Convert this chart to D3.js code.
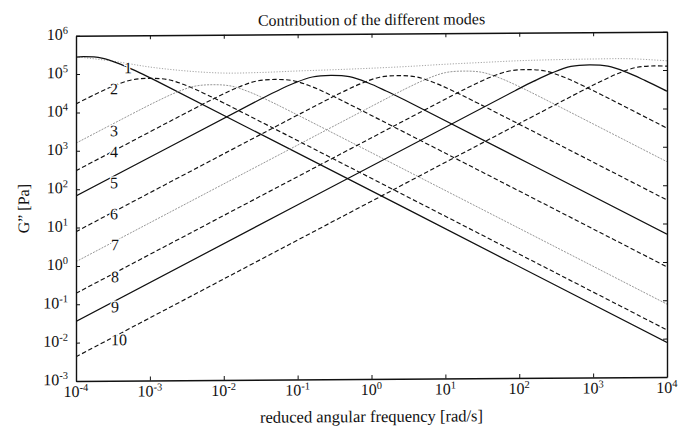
<!DOCTYPE html>
<html>
<head>
<meta charset="utf-8">
<script src="https://cdn.jsdelivr.net/npm/d3@7"></script>
<style>
html,body{margin:0;padding:0;background:#fff;}
svg{display:block;}
text{font-family:"Liberation Serif","DejaVu Serif",serif;fill:#111;}
</style>
</head>
<body>
<svg id="chart" width="680" height="436"></svg>
<script>
// ---- data ----
const title = "Contribution of the different modes";
const xLabel = "reduced angular frequency [rad/s]";
const yLabel = "G\u201D [Pa]";
const xTicks = [1e-4, 1e-3, 1e-2, 1e-1, 1e0, 1e1, 1e2, 1e3, 1e4];
const yTicks = [1e-3, 1e-2, 1e-1, 1e0, 1e1, 1e2, 1e3, 1e4, 1e5, 1e6];
const modeNames = ["1","2","3","4","5","6","7","8","9","10"];

const omega1 = [1e-4, 1.26e-4, 2.24e-4, 3.98e-4, 7.08e-4, 1.26e-3, 1e4];
const g1     = [2.75e5, 2.82e5, 2.58e5, 1.79e5, 1.08e5, 6.24e4, 7.9e-3];
const omega2 = [1e-4, 1.78e-4, 3.16e-4, 5.62e-4, 1e-3, 1.78e-3, 3.16e-3, 5.62e-3, 1e-2, 1e4];
const g2     = [1.66e4, 2.88e4, 4.75e4, 6.87e4, 7.5e4, 6.87e4, 4.75e4, 2.88e4, 1.66e4, 0.0168];
const omega3 = [1e-4, 7.08e-4, 1.26e-3, 2.24e-3, 3.98e-3, 7.08e-3, 1.26e-2, 2.24e-2, 3.98e-2, 7.08e-2, 1e4];
const g3     = [1.58e3, 1.10e4, 1.91e4, 3.16e4, 4.57e4, 4.99e4, 4.57e4, 3.16e4, 1.91e4, 1.10e4, 0.079];
const omega4 = [1e-4, 4.95e-3, 8.81e-3, 1.57e-2, 2.79e-2, 4.95e-2, 8.81e-2, 0.157, 0.279, 0.495, 1e4];
const g4     = [302, 1.48e4, 2.56e4, 4.24e4, 6.12e4, 6.68e4, 6.12e4, 4.24e4, 2.56e4, 1.48e4, 0.741];
const omega5 = [1e-4, 2.82e-2, 5.01e-2, 8.91e-2, 0.158, 0.282, 0.501, 0.891, 1.58, 2.82, 1e4];
const g5     = [66.1, 1.84e4, 3.19e4, 5.27e4, 7.62e4, 8.31e4, 7.62e4, 5.27e4, 3.19e4, 1.84e4, 5.25];
const omega6 = [1e-4, 0.229, 0.407, 0.724, 1.29, 2.29, 4.07, 7.24, 12.9, 22.9, 1e4];
const g6     = [7.8, 1.77e4, 3.06e4, 5.06e4, 7.31e4, 7.98e4, 7.31e4, 5.06e4, 3.06e4, 1.77e4, 40.9];
const omega7 = [1e-4, 1.78, 3.16, 5.62, 10, 17.8, 31.6, 56.2, 100, 178, 1e4];
const g7     = [1.29, 2.26e4, 3.93e4, 6.49e4, 9.38e4, 1.02e5, 9.38e4, 6.49e4, 3.93e4, 2.26e4, 407];
const omega8 = [1e-4, 12.6, 22.4, 39.8, 70.8, 126, 224, 398, 708, 1259, 1e4];
const g8     = [0.193, 2.40e4, 4.17e4, 6.89e4, 9.95e4, 1.09e5, 9.95e4, 6.89e4, 4.17e4, 2.40e4, 3.06e3];
const omega9 = [1e-4, 89.1, 158, 282, 501, 891, 1585, 2818, 5012, 8913, 1e4];
const g9     = [0.0355, 3.13e4, 5.42e4, 8.95e4, 1.29e5, 1.41e5, 1.29e5, 8.95e4, 5.42e4, 3.13e4, 2.79e4];
const omega10 = [1e-4, 676, 1202, 2138, 3802, 6761, 1e4];
const g10     = [4.27e-3, 2.85e4, 4.94e4, 8.17e4, 1.18e5, 1.29e5, 1.26e5];
const omegaSum = [1e-4, 3.16e-4, 1e-3, 3.16e-3, 1e-2, 3.16e-2, 0.1, 0.316, 1, 3.16, 10, 31.6, 100, 316, 1000, 3162, 1e4];
const gSum     = [2.82e5, 2.14e5, 1.48e5, 1.15e5, 1.0e5, 1.02e5, 1.10e5, 1.17e5, 1.26e5, 1.38e5, 1.55e5, 1.70e5, 1.86e5, 1.95e5, 2.0e5, 2.0e5, 1.74e5];

// ---- layout / styles ----
const plot = {left: 76, right: 667, top: 35.7, bottom: 381};
const svg = d3.select("#chart");
// the scanned original is very slightly skewed
const root = svg.append("g").attr("transform", "translate(0,0.52) skewY(-0.39)");

const x = d3.scaleLog().domain([1e-4, 1e4]).range([plot.left, plot.right]);
const y = d3.scaleLog().domain([1e-3, 1e6]).range([plot.bottom, plot.top]);

const modeOmegas = [omega1, omega2, omega3, omega4, omega5, omega6, omega7, omega8, omega9, omega10];
const modeGs = [g1, g2, g3, g4, g5, g6, g7, g8, g9, g10];
const modeStyle = [
  {stroke:"#111", dash:null, w:1.25},
  {stroke:"#111", dash:"4.5,2.5", w:1.15},
  {stroke:"#8a8a8a", dash:"2,1.2", w:0.9},
  {stroke:"#111", dash:"4.5,2.5", w:1.15},
  {stroke:"#111", dash:null, w:1.25},
  {stroke:"#111", dash:"4.5,2.5", w:1.15},
  {stroke:"#8a8a8a", dash:"2,1.2", w:0.9},
  {stroke:"#111", dash:"4.5,2.5", w:1.15},
  {stroke:"#111", dash:null, w:1.25},
  {stroke:"#111", dash:"4.5,2.5", w:1.15}
];
const labelPos = [[128,68],[114,89],[114,131],[114,152],[114,183],[114,214],[115,245],[115,277],[115,307],[119,340]];

root.append("clipPath").attr("id","clip").append("rect")
  .attr("x", plot.left).attr("y", plot.top)
  .attr("width", plot.right-plot.left).attr("height", plot.bottom-plot.top);

const line = d3.line().x(d => x(d[0])).y(d => y(d[1])).curve(d3.curveCatmullRom.alpha(0.5));
const lines = root.append("g").attr("clip-path","url(#clip)");

lines.append("path")
  .datum(d3.zip(omegaSum, gSum))
  .attr("d", line).attr("fill","none")
  .attr("stroke","#9a9a9a").attr("stroke-width",0.9).attr("stroke-dasharray","1.2,1.6");

modeOmegas.forEach((om, i) => {
  const st = modeStyle[i];
  const p = lines.append("path")
    .datum(d3.zip(om, modeGs[i]))
    .attr("d", line).attr("fill","none")
    .attr("stroke", st.stroke).attr("stroke-width", st.w);
  if (st.dash) p.attr("stroke-dasharray", st.dash);
});

// mode labels
root.append("g").selectAll("text").data(modeNames).join("text")
  .attr("x", (d,i) => labelPos[i][0]).attr("y", (d,i) => labelPos[i][1])
  .attr("text-anchor","middle").attr("dominant-baseline","central")
  .attr("font-size", 16)
  .attr("stroke","#fff").attr("stroke-width",2.5).attr("paint-order","stroke")
  .text(d => d);

// frame axes with inward ticks
const axG = root.append("g");
function styleAxis(g){
  g.selectAll(".domain").attr("stroke","#111").attr("stroke-width",1.4);
  g.selectAll(".tick line").attr("stroke","#111").attr("stroke-width",1);
  g.selectAll(".tick text").remove();
}
axG.append("g").attr("transform",`translate(0,${plot.bottom})`)
  .call(d3.axisBottom(x).tickValues(xTicks).tickSizeInner(-4).tickSizeOuter(0).tickFormat(""))
  .call(styleAxis);
axG.append("g").attr("transform",`translate(0,${plot.top})`)
  .call(d3.axisTop(x).tickValues(xTicks).tickSizeInner(-4).tickSizeOuter(0).tickFormat(""))
  .call(styleAxis);
axG.append("g").attr("transform",`translate(${plot.left},0)`)
  .call(d3.axisLeft(y).tickValues(yTicks).tickSizeInner(-4).tickSizeOuter(0).tickFormat(""))
  .call(styleAxis);
axG.append("g").attr("transform",`translate(${plot.right},0)`)
  .call(d3.axisRight(y).tickValues(yTicks).tickSizeInner(-4).tickSizeOuter(0).tickFormat(""))
  .call(styleAxis);

function expOf(v){ return String(Math.round(Math.log10(v))); }

// x tick labels
xTicks.forEach(v => {
  const t = root.append("text").attr("x", x(v)).attr("y", plot.bottom + 16)
    .attr("text-anchor","middle").attr("font-size",16);
  t.append("tspan").text("10");
  t.append("tspan").attr("dy",-6).attr("font-size",10.5).text(expOf(v));
});
// y tick labels
yTicks.forEach(v => {
  const t = root.append("text").attr("x", plot.left - 8).attr("y", y(v) + 4)
    .attr("text-anchor","end").attr("font-size",16);
  t.append("tspan").text("10");
  t.append("tspan").attr("dy",-6).attr("font-size",10.5).text(expOf(v));
});

// titles
root.append("text").attr("x", (plot.left+plot.right)/2).attr("y", 27)
  .attr("text-anchor","middle").attr("font-size",16).text(title);
root.append("text").attr("x", (plot.left+plot.right)/2).attr("y", 424)
  .attr("text-anchor","middle").attr("font-size",16.5).text(xLabel);
root.append("text").attr("transform", `translate(29,${(plot.top+plot.bottom)/2}) rotate(-90)`)
  .attr("text-anchor","middle").attr("font-size",16).text(yLabel);
</script>
</body>
</html>
